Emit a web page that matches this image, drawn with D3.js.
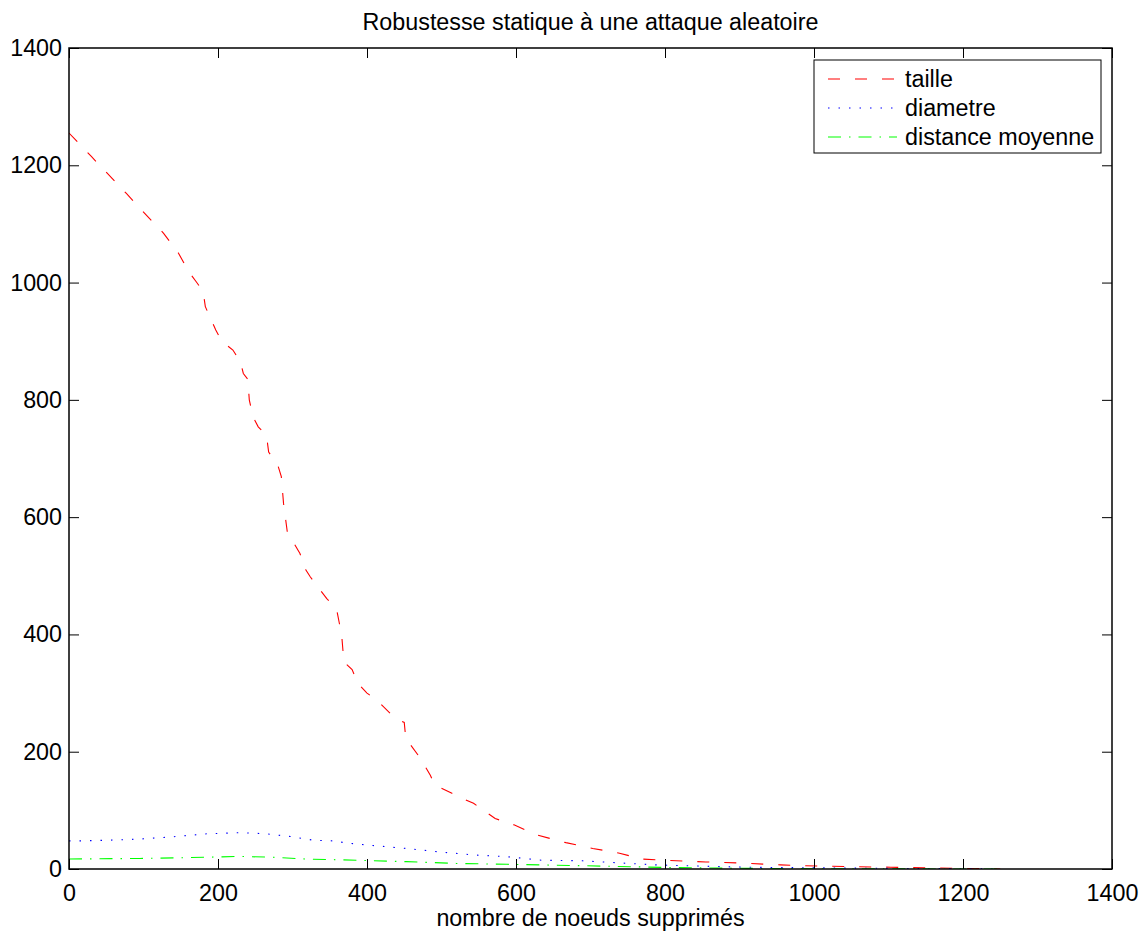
<!DOCTYPE html>
<html>
<head>
<meta charset="utf-8">
<script src="https://cdn.jsdelivr.net/npm/d3@7"></script>
<style>
  html, body { margin: 0; padding: 0; background: #fff; }
  svg { display: block; font-family: "Liberation Sans", Arial, Helvetica, sans-serif; }
</style>
</head>
<body>
<svg id="chart" width="1145" height="934"></svg>
<script>
// ---- data ----
const titleText = "Robustesse statique à une attaque aleatoire";
const xLabel = "nombre de noeuds supprimés";
const xTicks = [0, 200, 400, 600, 800, 1000, 1200, 1400];
const yTicks = [0, 200, 400, 600, 800, 1000, 1200, 1400];
const seriesNames = ["taille", "diametre", "distance moyenne"];

const tailleX = [0,30,77,100,127,147,160,171,180,183,197,205,220,230,234,240,242,247,254,265,268,280,285,288,293,310,318,324,346,359,366,369,380,388,400,413,438,450,452,471,485,491,514,523,543,572,598,628,667,703,739,769,799,855,905,955,1004,1053,1103,1147,1203,1250];
const tailleY = [1255,1215,1152,1120,1084,1050,1020,1001,985,959,919,900,885,865,845,835,800,771,754,740,711,690,669,623,575,538,510,498,461,444,399,353,340,316,300,288,257,250,223,190,160,143,129,123,112,86,75,58,45,35,27,17,15,12,10,7,5,4,3,2,1,0];

const diamX = [0,15,51,95,140,185,230,265,300,328,354,375,408,453,498,543,588,634,689,744,788,844,910,1000,1100,1200,1250];
const diamY = [48,48,49,51,55,60,62,60,55,49,48,44,40,35,29,24,21,15,14,10,7,5,3,2,1,0.5,0];

const distX = [0,95,185,225,274,319,386,453,520,588,689,799,910,1000,1100,1250];
const distY = [17,18,20,21.5,20,17,15,12.5,9.5,8,5.6,2.7,1.1,0.5,0.2,0];

// ---- layout ----
const svg = d3.select("#chart");
const L = 69, R = 1112, T = 48, B = 869;
const FS = 23.3;
const x = d3.scaleLinear().domain([0, 1400]).range([L, R]);
const y = d3.scaleLinear().domain([0, 1400]).range([B, T]);

// series
const series = [
  { name: seriesNames[0], xs: tailleX, ys: tailleY, color: "#ff0000", dash: "12,15" },
  { name: seriesNames[1], xs: diamX, ys: diamY, color: "#0000ff", dash: "1.5,9" },
  { name: seriesNames[2], xs: distX, ys: distY, color: "#00ff00", dash: "13,8,1.5,8" }
];
const line = d3.line().x(d => x(d[0])).y(d => y(d[1]));

svg.append("clipPath").attr("id", "clip")
  .append("rect").attr("x", L).attr("y", T).attr("width", R - L).attr("height", B - T);

const g = svg.append("g").attr("clip-path", "url(#clip)");
series.forEach(s => {
  const pts = s.xs.map((v, i) => [v, s.ys[i]]);
  g.append("path").datum(pts)
    .attr("d", line)
    .attr("fill", "none")
    .attr("stroke", s.color)
    .attr("stroke-width", 1.1)
    .attr("stroke-dasharray", s.dash);
});

// axes (box with inward ticks on all sides)
const tickLen = 10;
const axB = d3.axisBottom(x).tickValues(xTicks).tickSize(-tickLen).tickPadding(15).tickFormat(d3.format("d"));
const axT = d3.axisTop(x).tickValues(xTicks).tickSize(-tickLen).tickFormat("");
const axL = d3.axisLeft(y).tickValues(yTicks).tickSize(-tickLen).tickPadding(7).tickFormat(d3.format("d"));
const axR = d3.axisRight(y).tickValues(yTicks).tickSize(-tickLen).tickFormat("");

function style(sel) {
  sel.select(".domain").remove();
  sel.selectAll(".tick line").attr("stroke", "#000").attr("stroke-width", 1);
  sel.selectAll("text").attr("fill", "#000").attr("font-size", FS)
    .attr("font-family", "'Liberation Sans', Arial, Helvetica, sans-serif");
}
svg.append("g").attr("transform", `translate(0,${B})`).call(axB).call(style);
svg.append("g").attr("transform", `translate(0,${T})`).call(axT).call(style);
svg.append("g").attr("transform", `translate(${L},0)`).call(axL).call(style);
svg.append("g").attr("transform", `translate(${R},0)`).call(axR).call(style);

svg.append("rect").attr("x", L).attr("y", T).attr("width", R - L).attr("height", B - T)
  .attr("fill", "none").attr("stroke", "#000").attr("stroke-width", 1.5);

// title and label
svg.append("text").attr("x", (L + R) / 2).attr("y", 30).attr("text-anchor", "middle")
  .attr("font-size", FS).attr("fill", "#000").text(titleText);
svg.append("text").attr("x", (L + R) / 2).attr("y", 926).attr("text-anchor", "middle")
  .attr("font-size", FS).attr("fill", "#000").text(xLabel);

// legend
const lg = svg.append("g");
lg.append("rect").attr("x", 814).attr("y", 60).attr("width", 287).attr("height", 93)
  .attr("fill", "#fff").attr("stroke", "#000").attr("stroke-width", 1);
series.forEach((s, i) => {
  const yy = 79 + i * 29;
  lg.append("line").attr("x1", 828).attr("x2", 897).attr("y1", yy).attr("y2", yy)
    .attr("stroke", s.color).attr("stroke-width", 1.1).attr("stroke-dasharray", s.dash);
  lg.append("text").attr("x", 905).attr("y", yy).attr("dy", "0.35em")
    .attr("font-size", FS).attr("fill", "#000").text(s.name);
});
</script>
</body>
</html>
